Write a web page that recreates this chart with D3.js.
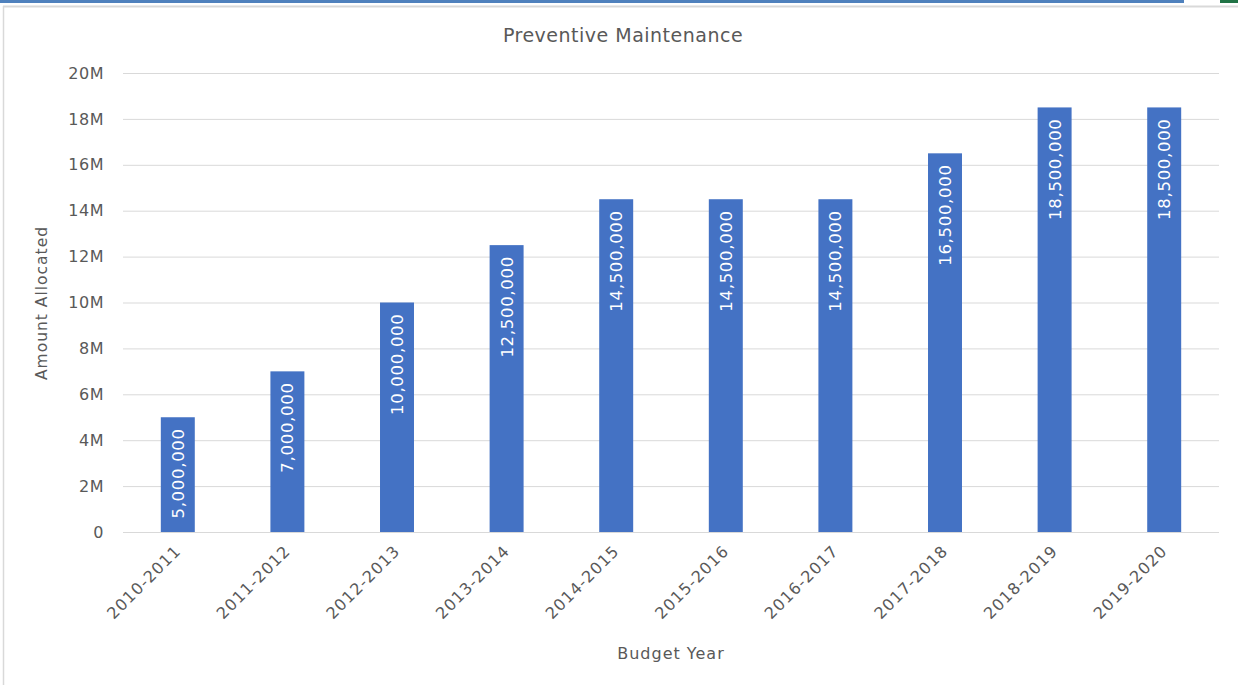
<!DOCTYPE html>
<html><head><meta charset="utf-8">
<script src="https://cdn.jsdelivr.net/npm/d3@7"></script>
<style>body{margin:0;background:#fff;} svg{display:block;} text{font-family:"DejaVu Sans",sans-serif;}</style>
</head><body>
<svg id="c" width="1238" height="685"></svg>
<script>
const categories = ["2010-2011","2011-2012","2012-2013","2013-2014","2014-2015","2015-2016","2016-2017","2017-2018","2018-2019","2019-2020"];
const values = [5000000,7000000,10000000,12500000,14500000,14500000,14500000,16500000,18500000,18500000];
const yTicks = [0,2000000,4000000,6000000,8000000,10000000,12000000,14000000,16000000,18000000,20000000];
const yTickLabels = ["0","2M","4M","6M","8M","10M","12M","14M","16M","18M","20M"];
const title = "Preventive Maintenance";
const xTitle = "Budget Year";
const yTitle = "Amount Allocated";

const svg = d3.select("#c");
// frame decorations
svg.append("rect").attr("x",0).attr("y",0).attr("width",1184).attr("height",3).attr("fill","#4f81bd");
svg.append("rect").attr("x",1220).attr("y",0).attr("width",18).attr("height",3).attr("fill","#217346");
svg.append("line").attr("x1",3).attr("x2",1238).attr("y1",6.5).attr("y2",6.5).attr("stroke","#d9d9d9").attr("stroke-width",2);
svg.append("line").attr("x1",3.5).attr("x2",3.5).attr("y1",6).attr("y2",685).attr("stroke","#d9d9d9").attr("stroke-width",1.5);

const x = d3.scaleBand().domain(categories).range([123,1219]).paddingInner(0.69).paddingOuter(0.345);
const y = d3.scaleLinear().domain([0,20000000]).range([532,73]);

// gridlines
const yAxis = d3.axisLeft(y).tickValues(yTicks).tickFormat((d,i)=>yTickLabels[i]).tickSize(-(1219-123)).tickPadding(19);
const gy = svg.append("g").attr("transform","translate(123,0)").call(yAxis);
gy.select(".domain").remove();
gy.selectAll(".tick line").attr("stroke","#d9d9d9").attr("stroke-width",1);
gy.selectAll(".tick text").attr("fill","#595959").style("font-size","16px").style("letter-spacing","0.5px");

// x axis
const xAxis = d3.axisBottom(x).tickSize(0).tickPadding(0);
const gx = svg.append("g").attr("transform","translate(0,532)").call(xAxis);
gx.select(".domain").attr("stroke","#d9d9d9").attr("d","M123,0.5H1219");
gx.selectAll(".tick text").attr("fill","#595959").style("font-size","16px").style("letter-spacing","1px")
  .attr("text-anchor","end").attr("dy","0").attr("y",0)
  .attr("transform","translate(4,20) rotate(-45)");

// bars
svg.append("g").selectAll("rect").data(values).join("rect")
  .attr("x",(d,i)=>x(categories[i])).attr("width",x.bandwidth())
  .attr("y",d=>y(d)).attr("height",d=>y(0)-y(d)).attr("fill","#4472c4");

// labels
const fmt = d3.format(",");
svg.append("g").selectAll("text").data(values).join("text")
  .attr("transform",(d,i)=>`translate(${x(categories[i])+x.bandwidth()/2+6},${y(d)+11}) rotate(-90)`)
  .attr("text-anchor","end").attr("fill","#fff").style("font-size","16.5px").style("letter-spacing","0.7px")
  .text(d=>fmt(d));

// titles
svg.append("text").attr("x",623).attr("y",42).attr("text-anchor","middle").attr("fill","#595959").style("font-size","19px").style("letter-spacing","0.5px").text(title);
svg.append("text").attr("x",671).attr("y",659).attr("text-anchor","middle").attr("fill","#595959").style("font-size","16px").style("letter-spacing","1px").text(xTitle);
svg.append("text").attr("transform","translate(47,303) rotate(-90)").attr("text-anchor","middle").attr("fill","#595959").style("font-size","15.5px").style("letter-spacing","1px").text(yTitle);
</script>
</body></html>
